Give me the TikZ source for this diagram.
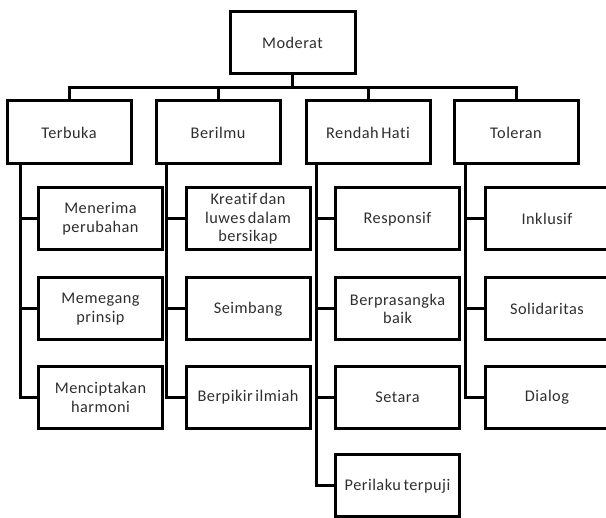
\documentclass[tikz,border=0pt]{standalone}
\usepackage{fontspec}
\setmainfont{Carlito}[Ligatures=NoCommon, LetterSpace=3, WordSpace=0.6]
\begin{document}
\begin{tikzpicture}[x=1pt,y=-1pt,
  box/.style={draw=black, line width=3pt, minimum width=124pt, minimum height=62pt, align=center, inner sep=1pt, text=black!82, font=\fontsize{16.3}{18.6}\selectfont},
  conn/.style={draw=black, line width=3pt, line join=miter}]
\useasboundingbox (0,0) rectangle (606,518);
\node[box, minimum width=125pt] (m) at (292.5,43) {Moderat};
\node[box, minimum height=63pt] (t) at (69,132.5) {Terbuka};
\node[box, minimum height=63pt] (b) at (218,132.5) {Berilmu};
\node[box, minimum height=63pt] (r) at (368,132.5) {Rendah Hati};
\node[box, minimum height=63pt] (o) at (516,132.5) {Toleran};
% Terbuka children
\node[box] (t1) at (100.5,219) {Menerima\\perubahan};
\node[box] (t2) at (100.5,309) {Memegang\\prinsip};
\node[box] (t3) at (100.5,397.5) {Menciptakan\\harmoni};
% Berilmu children
\node[box] (b1) at (248,219) {Kreatif dan\\luwes dalam\\bersikap};
\node[box] (b2) at (248,309) {Seimbang};
\node[box] (b3) at (248,397.5) {Berpikir ilmiah};
% Rendah Hati children
\node[box] (r1) at (397.5,219) {Responsif};
\node[box] (r2) at (397.5,309) {Berprasangka\\baik};
\node[box] (r3) at (397.5,397.5) {Setara};
\node[box] (r4) at (397.5,486) {Perilaku terpuji};
% Toleran children
\node[box] (o1) at (547,219) {Inklusif};
\node[box] (o2) at (547,309) {Solidaritas};
\node[box] (o3) at (547,397.5) {Dialog};
% top connectors
\coordinate (bus) at (292.5,88);
\draw[conn] (m.south) -- (bus);
\draw[conn] (t.north) |- (bus) -| (o.north);
\draw[conn] (b.north) -- (b.north |- bus);
\draw[conn] (r.north) -- (r.north |- bus);
% children connectors
\foreach \p/\s/\n in {t/15/3, b/12/3, r/12/4, o/13/3}{
  \coordinate (\p v) at ([xshift=\s pt]\p.south west);
  \foreach \i in {1,...,\n}{
    \draw[conn] (\p v) |- (\p\i.west);
  }
}
\end{tikzpicture}
\end{document}
